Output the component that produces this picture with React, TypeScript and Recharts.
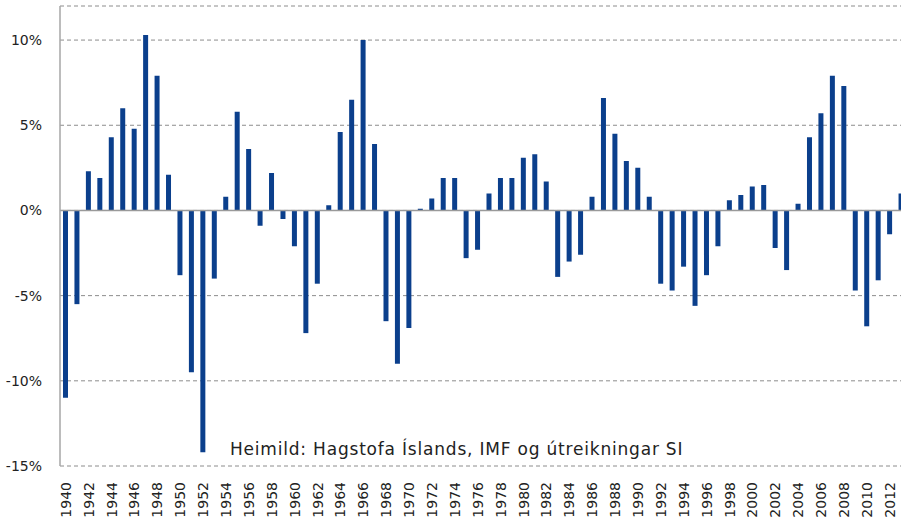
import { BarChart, Bar, XAxis, YAxis, CartesianGrid, ReferenceLine } from 'recharts';

// years 1940-2013
const years = [
  1940, 1941, 1942, 1943, 1944, 1945, 1946, 1947, 1948, 1949,
  1950, 1951, 1952, 1953, 1954, 1955, 1956, 1957, 1958, 1959,
  1960, 1961, 1962, 1963, 1964, 1965, 1966, 1967, 1968, 1969,
  1970, 1971, 1972, 1973, 1974, 1975, 1976, 1977, 1978, 1979,
  1980, 1981, 1982, 1983, 1984, 1985, 1986, 1987, 1988, 1989,
  1990, 1991, 1992, 1993, 1994, 1995, 1996, 1997, 1998, 1999,
  2000, 2001, 2002, 2003, 2004, 2005, 2006, 2007, 2008, 2009,
  2010, 2011, 2012, 2013,
];

// yearly change, %
const growth = [
  -11.0, -5.5, 2.3, 1.9, 4.3, 6.0, 4.8, 10.3, 7.9, 2.1,
  -3.8, -9.5, -14.2, -4.0, 0.8, 5.8, 3.6, -0.9, 2.2, -0.5,
  -2.1, -7.2, -4.3, 0.3, 4.6, 6.5, 10.0, 3.9, -6.5, -9.0,
  -6.9, 0.1, 0.7, 1.9, 1.9, -2.8, -2.3, 1.0, 1.9, 1.9,
  3.1, 3.3, 1.7, -3.9, -3.0, -2.6, 0.8, 6.6, 4.5, 2.9,
  2.5, 0.8, -4.3, -4.7, -3.3, -5.6, -3.8, -2.1, 0.6, 0.9,
  1.4, 1.5, -2.2, -3.5, 0.4, 4.3, 5.7, 7.9, 7.3, -4.7,
  -6.8, -4.1, -1.4, 1.0,
];

const yTicks = [-15, -10, -5, 0, 5, 10];

const source = 'Heimild: Hagstofa Íslands, IMF og útreikningar SI';

const data = years.map((y, i) => ({ year: String(y), value: growth[i] }));

const font = '"DejaVu Sans", Verdana, sans-serif';

function YearTick({ x, y, payload }: any) {
  return (
    <text
      transform={`translate(${x},${y + 8}) rotate(-90)`}
      textAnchor="end"
      dominantBaseline="central"
      fontSize={14}
      fontFamily={font}
      fill="#222"
    >
      {payload.value}
    </text>
  );
}

export default function App() {
  return (
    <div style={{ position: 'relative', width: 901, height: 520, overflow: 'hidden', fontFamily: font }}>
      <style>{`body{margin:0;overflow:hidden}`}</style>
      <BarChart
        width={907}
        height={520}
        data={data}
        margin={{ top: 6, right: 0, left: 0, bottom: 0 }}
        barCategoryGap={0}
      >
        <CartesianGrid horizontal vertical={false} stroke="#8c8c8c" strokeDasharray="4 3" />
        <XAxis
          dataKey="year"
          interval={1}
          axisLine={false}
          tickLine={false}
          height={54}
          tick={<YearTick />}
        />
        <YAxis
          domain={[-15, 12]}
          ticks={yTicks}
          width={60}
          tickFormatter={(v: number) => `${v}%`}
          axisLine={{ stroke: '#a6a6a6', strokeWidth: 1.5 }}
          tickLine={false}
          tickMargin={12}
          tick={{ fontSize: 14, fontFamily: font, fill: '#222' }}
          allowDataOverflow
        />
        <ReferenceLine y={0} stroke="#9a9a9a" strokeWidth={1.5} />
        <Bar dataKey="value" fill="#0b3f8c" barSize={5} isAnimationActive={false} />
      </BarChart>
      <div
        style={{
          position: 'absolute',
          left: 230,
          top: 441,
          fontSize: 17,
          letterSpacing: 0.8,
          lineHeight: 1,
          color: '#222',
          whiteSpace: 'nowrap',
        }}
      >
        {source}
      </div>
    </div>
  );
}
